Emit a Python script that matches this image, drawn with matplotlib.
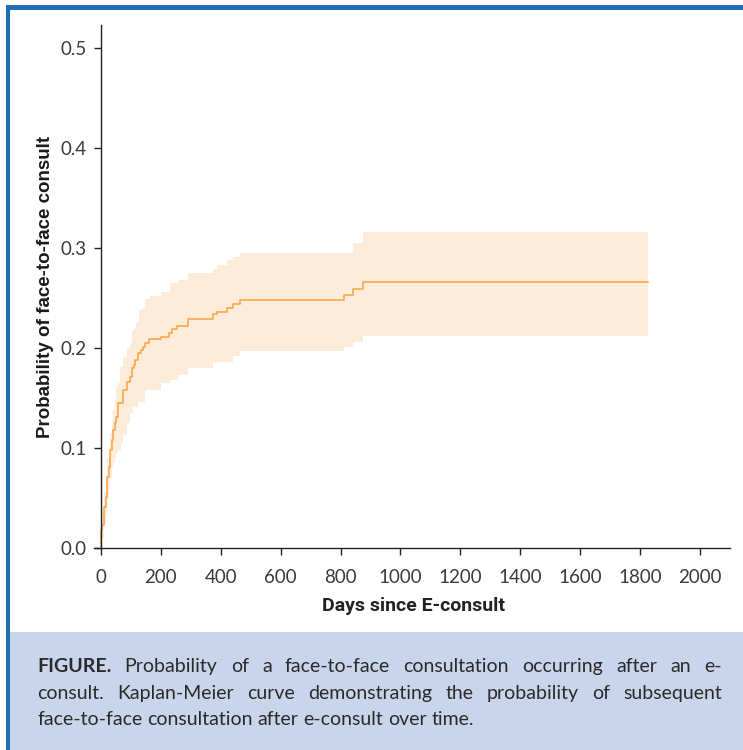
import matplotlib
matplotlib.use("Agg")
import matplotlib.pyplot as plt
from matplotlib.patches import Rectangle

# Kaplan-Meier estimate (days, cumulative probability)
days = [0, 0, 4, 11, 17, 22, 27, 30, 36, 41, 47, 52, 56, 63, 66, 75, 86, 97,
        103, 108, 111, 115, 117, 124, 128, 135, 141, 147, 160, 164, 200, 228,
        230, 239, 255, 258, 292, 373, 386, 420, 441, 464, 810, 840, 874, 1827]
est = [0.0, 0.018, 0.023, 0.041, 0.051, 0.071, 0.081, 0.098, 0.108, 0.118,
       0.125, 0.131, 0.145, 0.145, 0.145, 0.158, 0.166, 0.171, 0.180, 0.180,
       0.183, 0.188, 0.188, 0.195, 0.195, 0.198, 0.201, 0.205, 0.209, 0.209,
       0.211, 0.215, 0.215, 0.219, 0.222, 0.222, 0.229, 0.234, 0.236, 0.240,
       0.244, 0.248, 0.253, 0.259, 0.266, 0.266]
ci_low = [0.0, 0.006, 0.010, 0.025, 0.033, 0.049, 0.058, 0.070, 0.080, 0.085,
          0.090, 0.095, 0.098, 0.098, 0.105, 0.113, 0.125, 0.135, 0.135, 0.141,
          0.141, 0.141, 0.141, 0.146, 0.146, 0.146, 0.146, 0.158, 0.158, 0.158,
          0.165, 0.165, 0.168, 0.168, 0.168, 0.173, 0.180, 0.186, 0.186, 0.186,
          0.192, 0.197, 0.201, 0.206, 0.212, 0.212]
ci_up = [0.0, 0.030, 0.036, 0.056, 0.068, 0.090, 0.100, 0.115, 0.128, 0.138,
         0.148, 0.161, 0.165, 0.181, 0.181, 0.191, 0.200, 0.205, 0.218, 0.218,
         0.218, 0.220, 0.226, 0.226, 0.238, 0.238, 0.240, 0.249, 0.249, 0.252,
         0.256, 0.256, 0.265, 0.265, 0.265, 0.268, 0.275, 0.279, 0.283, 0.288,
         0.291, 0.295, 0.295, 0.305, 0.316, 0.316]

xticks = [0, 200, 400, 600, 800, 1000, 1200, 1400, 1600, 1800, 2000]
yticks = [0.0, 0.1, 0.2, 0.3, 0.4, 0.5]

caption_lines = [
    [("FIGURE.", "bold"), ("Probability", "normal"), ("of", "normal"), ("a", "normal"),
     ("face-to-face", "normal"), ("consultation", "normal"), ("occurring", "normal"),
     ("after", "normal"), ("an", "normal"), ("e-", "normal")],
    [(w, "normal") for w in "consult. Kaplan-Meier curve demonstrating the probability of subsequent".split()],
    [(w, "normal") for w in "face-to-face consultation after e-consult over time.".split()],
]

W, H = 743, 750
fig = plt.figure(figsize=(W / 100, H / 100), dpi=100)
fig.patch.set_facecolor("white")

# frame and caption box
fig.add_artist(Rectangle((10 / W, 0), 1, 118 / H, transform=fig.transFigure,
                         facecolor="#c9d5eb", edgecolor="none", zorder=0))
fig.add_artist(Rectangle((6 / W, 0), 4 / W, 1 - 5 / H, transform=fig.transFigure,
                         facecolor="#1f6db5", edgecolor="none", zorder=1))
fig.add_artist(Rectangle((6 / W, 1 - 10 / H), 1, 5 / H, transform=fig.transFigure,
                         facecolor="#1f6db5", edgecolor="none", zorder=1))

ax = fig.add_axes([94 / W, (H - 548) / H, 636 / W, 523 / H])
ax.fill_between(days, ci_low, ci_up, step="post", color="#fdecd9", lw=0)
ax.step(days, est, where="post", color="#f8a23e", lw=1.1)

ax.set_xlim(-23, 2100)
ax.set_ylim(0, 0.523)
ax.spines["top"].set_visible(False)
ax.spines["right"].set_visible(False)
ax.spines["left"].set_position(("data", 0))
for s in ("left", "bottom"):
    ax.spines[s].set_color("#222222")
    ax.spines[s].set_linewidth(1.0)
ax.set_xticks(xticks)
ax.set_yticks(yticks)
ax.set_xticklabels([str(v) for v in xticks])
ax.set_yticklabels([f"{v:.1f}" for v in yticks])
ax.tick_params(length=5, width=1.0, color="#222222", labelcolor="#3a3a3a",
               labelsize=13.5)
ax.tick_params(axis="x", pad=10)
ax.tick_params(axis="y", pad=5)
for lab in ax.get_xticklabels() + ax.get_yticklabels():
    lab.set_family(["Lato", "DejaVu Sans"])
    lab.set_fontweight("normal")

ax.set_xlabel("Days since E-consult", family=["Roboto", "DejaVu Sans"],
              fontweight="bold", fontsize=14, color="#222222")
ax.set_ylabel("Probability of face-to-face consult",
              family=["Liberation Sans", "DejaVu Sans"], fontweight="bold",
              fontsize=13.5, color="#1a1a1a")
ax.yaxis.set_label_coords(-0.063, 0.5)
ax.xaxis.set_label_coords(0.502, -0.094)

# justified caption, word by word
renderer = fig.canvas.get_renderer()
x0, x1 = 37, 722
baselines = [672, 699, 725]
for i, (line, yb) in enumerate(zip(caption_lines, baselines)):
    texts = [fig.text(0, 1 - yb / H, w, fontsize=14, fontweight=wt,
                      family=["Lato", "DejaVu Sans"], color="#2a2a2a",
                      va="baseline", ha="left") for w, wt in line]
    widths = [t.get_window_extent(renderer).width for t in texts]
    if i < len(caption_lines) - 1:
        gap = (x1 - x0 - sum(widths)) / (len(texts) - 1)
    else:
        gap = 5
    x = x0
    for t, w in zip(texts, widths):
        t.set_x(x / W)
        x += w + gap

fig.savefig("out.png", dpi=100)
